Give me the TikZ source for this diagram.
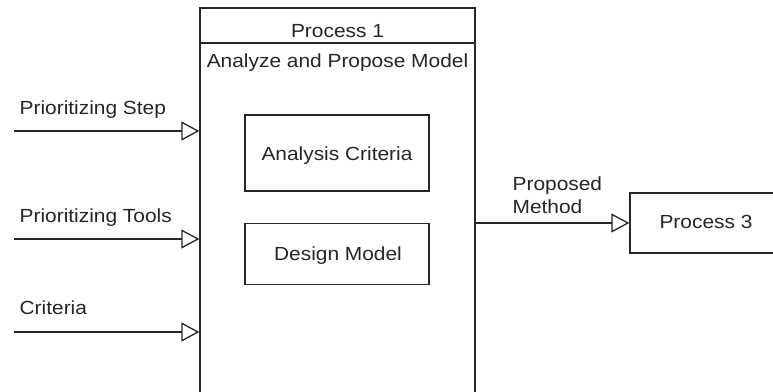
\documentclass[tikz,border=0pt]{standalone}
\usepackage{fontspec}
\setmainfont{Liberation Sans}[FakeStretch=1.1]
\usetikzlibrary{arrows.meta}
\begin{document}
\begin{tikzpicture}[x=1pt,y=-1pt,
  line width=1.3pt,
  txt/.style={font=\fontsize{19}{23}\selectfont, inner sep=0pt, text=black!85},
  box/.style={draw=black!85, fill=white, inner sep=0pt},
  flow/.style={draw=black!85, -{Triangle[open, length=18pt, width=19pt]}}
]
\useasboundingbox (0,0) rectangle (773,391);
\fill[white] (0,0) rectangle (773,391);

% main process box (extends beyond the bottom)
\node[box, minimum width=275pt, minimum height=392pt] (P1) at (337.5,204) {};
\draw[black!85] (200,43) coordinate (d1) -- (475,43) coordinate (d2);
\node[txt, anchor=base] (t1) at (337.5,37) {Process 1};
\node[txt, anchor=base] (t2) at (337.5,67) {Analyze and Propose Model};

% inner boxes
\node[box, minimum width=184pt, minimum height=76pt] (AC) at (337,153) {};
\node[txt, anchor=base] (ACt) at (337,160) {Analysis Criteria};
\node[box, minimum width=184pt, minimum height=61pt] (DM) at (337,254) {};
\node[txt, anchor=base] (DMt) at (338,260) {Design Model};

% process 3 box (extends beyond the right edge)
\node[box, minimum width=156pt, minimum height=60pt] (P3) at (708,223) {};
\node[txt, anchor=base] (P3t) at (706,228) {Process 3};

% inputs
\coordinate (s1) at (14,131);
\coordinate (s2) at (14,239);
\coordinate (s3) at (14,332);
\draw[flow] (s1) -- (s1 -| P1.west);
\draw[flow] (s2) -- (s2 -| P1.west);
\draw[flow] (s3) -- (s3 -| P1.west);
\node[txt, anchor=base west] (l1) at (19,114) {Prioritizing Step};
\node[txt, anchor=base west] (l2) at (19,222) {Prioritizing Tools};
\node[txt, anchor=base west] (l3) at (19,314) {Criteria};

% output
\draw[flow] (P1.east |- P3.west) -- (P3.west);
\node[txt, anchor=base west, align=left] (l4) at (512,190) {Proposed};
\node[txt, anchor=base west] (l5) at (512,213) {Method};
\end{tikzpicture}
\end{document}
